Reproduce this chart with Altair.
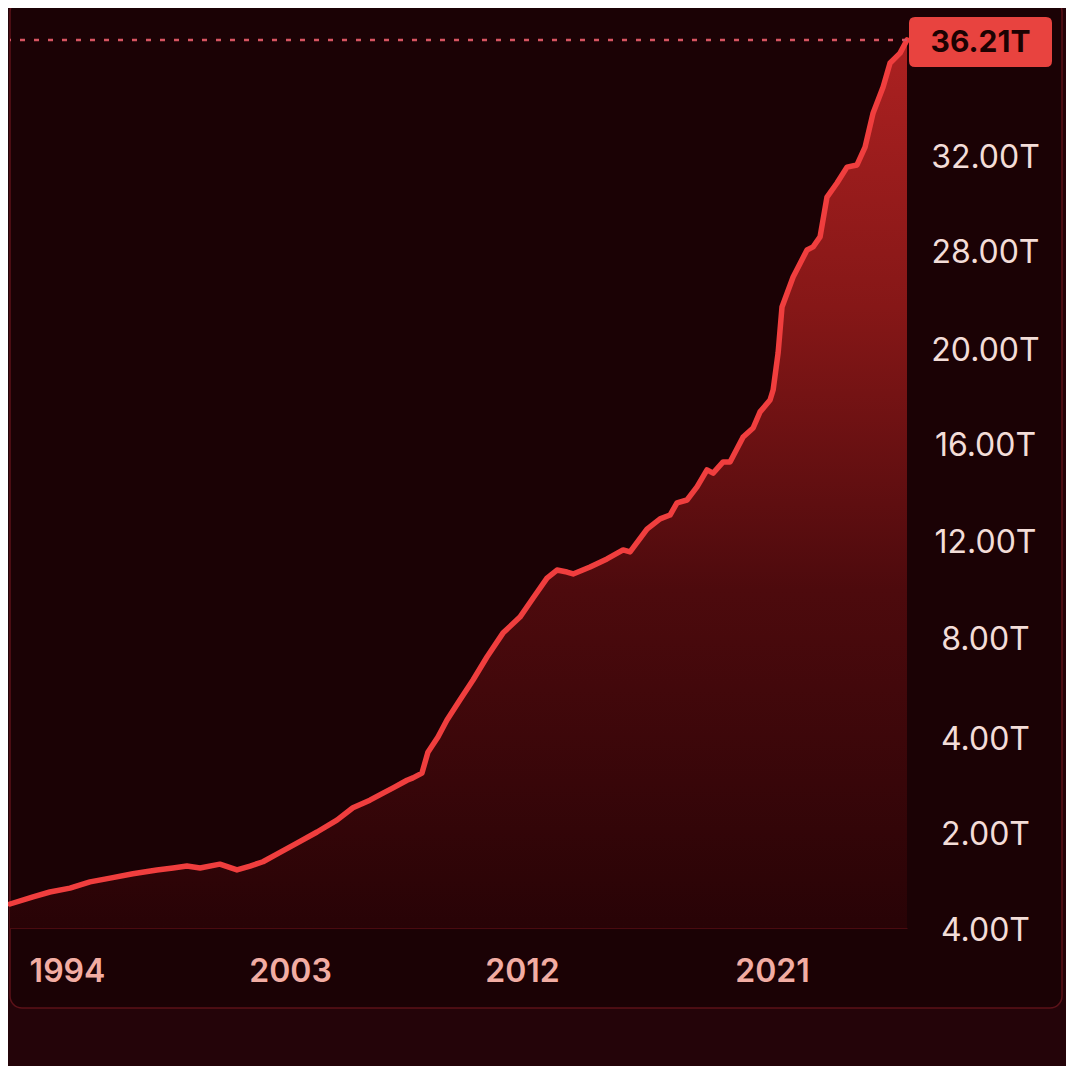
import altair as alt
import pandas as pd

# ---- data ----
years = [1991.70, 1992.63, 1993.31, 1994.12, 1994.93, 1995.74, 1996.66, 1997.63, 1998.28, 1998.84,
         1999.37, 2000.17, 2000.86, 2001.39, 2001.91, 2002.47, 2003.27, 2004.05, 2004.82, 2005.44,
         2006.10, 2006.61, 2007.00, 2007.54, 2007.77, 2008.12, 2008.35, 2008.74, 2009.09, 2009.59,
         2010.10, 2010.64, 2011.26, 2011.92, 2012.40, 2012.90, 2013.26, 2013.62, 2013.84, 2014.45,
         2015.06, 2015.64, 2015.89, 2016.50, 2016.97, 2017.33, 2017.58, 2017.94, 2018.30, 2018.66,
         2018.88, 2019.24, 2019.49, 2019.96, 2020.32, 2020.57, 2020.93, 2021.04, 2021.22, 2021.36,
         2021.76, 2022.26, 2022.48, 2022.73, 2022.98, 2023.34, 2023.70, 2024.06, 2024.35, 2024.64,
         2025.00, 2025.25, 2025.61, 2025.86]
debt_t = [0.50, 0.65, 0.75, 0.83, 0.96, 1.04, 1.13, 1.21, 1.25, 1.29,
          1.25, 1.33, 1.21, 1.29, 1.38, 1.54, 1.77, 2.00, 2.25, 2.51,
          2.67, 2.82, 2.93, 3.09, 3.14, 3.24, 3.68, 4.00, 4.68, 5.48,
          6.28, 7.20, 8.16, 8.82, 9.61, 10.43, 10.76, 10.68, 10.60, 10.89,
          11.22, 11.59, 11.51, 12.45, 12.87, 13.03, 13.53, 13.65, 14.19, 14.89,
          14.76, 15.22, 15.22, 16.25, 16.63, 17.31, 17.81, 18.23, 19.79, 23.35,
          25.80, 28.00, 28.13, 28.55, 30.23, 30.82, 31.49, 31.58, 32.29, 33.54,
          34.49, 35.37, 35.73, 36.21]
assert len(years) == len(debt_t)

# axis tick labels (as printed in the reference)
x_ticks = [1994, 2003, 2012, 2021]
y_ticks = [0, 2, 4, 8, 12, 16, 20, 28, 32]
y_tick_labels = ["4.00T", "2.00T", "4.00T", "8.00T", "12.00T", "16.00T", "20.00T", "28.00T", "32.00T"]

# the reference axes are piecewise (uneven spacing between ticks)
x_domain = [1991.70, 1994, 2003, 2012, 2021, 2025.86]
x_range = [0, 57, 280, 512, 762, 897]
y_domain = [0, 2, 4, 8, 12, 16, 20, 28, 32, 36.21]
y_range = [888, 792, 697, 597, 500, 403, 308, 210, 115, 0]

W, H = 897, 888
FONT = "Inter"

df = pd.DataFrame({"year": years, "debt": debt_t})
last = pd.DataFrame({"year": [years[-1]], "debt": [debt_t[-1]],
                     "label": [f"{debt_t[-1]:.2f}T"]})

label_expr = " : ".join(
    [f"datum.value == {v} ? '{l}'" for v, l in zip(y_ticks, y_tick_labels)] + ["''"]
)

x_enc = alt.X("year:Q",
              scale=alt.Scale(domain=x_domain, range=x_range, nice=False, zero=False),
              axis=alt.Axis(values=x_ticks, format="d", title=None, grid=False,
                            ticks=False, tickSize=0, domain=True, domainColor="#4a0b10",
                            domainWidth=1, labelFont=FONT, labelFontSize=32,
                            labelFontWeight=600, labelColor="#f2ada3",
                            labelPadding=28, zindex=1))
y_enc = alt.Y("debt:Q",
              scale=alt.Scale(domain=y_domain, range=y_range, nice=False, zero=False),
              axis=alt.Axis(orient="right", values=y_ticks, labelExpr=label_expr,
                            title=None, grid=False, ticks=False, tickSize=0, domain=False,
                            labelFont=FONT, labelFontSize=32, labelFontWeight=400,
                            labelColor="#f3ddd8", labelAlign="center",
                            labelPadding=78, labelOffset=2, zindex=1))

card = alt.Chart(pd.DataFrame({"k": [0]})).mark_rect(
    fill="#1b0205", stroke="#5c1219", strokeWidth=1.5, cornerRadius=12
).encode(x=alt.value(0), x2=alt.value(1052), y=alt.value(-40), y2=alt.value(968))

area = alt.Chart(df).mark_area(
    color=alt.Gradient(
        gradient="linear",
        stops=[alt.GradientStop(color="#ac2121", offset=0),
               alt.GradientStop(color="#861717", offset=0.3),
               alt.GradientStop(color="#4d0a0d", offset=0.62),
               alt.GradientStop(color="#280306", offset=1)],
        x1=1, x2=1, y1=0, y2=1),
    interpolate="linear"
).encode(x=x_enc, y=y_enc)

line = alt.Chart(df).mark_line(
    color="#f03e3e", strokeWidth=5.5, strokeJoin="round", strokeCap="round"
).encode(x="year:Q", y="debt:Q")

rule = alt.Chart(last).mark_rule(
    color="#d65562", strokeWidth=2.5, strokeDash=[5, 9]
).encode(y="debt:Q")

box_path = ("M-1.31,-0.5 H1.31 Q1.43,-0.5 1.43,-0.38 V0.38 Q1.43,0.5 1.31,0.5 "
            "H-1.31 Q-1.43,0.5 -1.43,0.38 V-0.38 Q-1.43,-0.5 -1.31,-0.5 Z")
box = alt.Chart(last).mark_point(
    shape=box_path, size=10000, filled=True, fill="#e8433f", opacity=1,
    strokeWidth=0, xOffset=73.5, yOffset=2
).encode(x="year:Q", y="debt:Q")

box_text = alt.Chart(last).mark_text(
    font=FONT, fontSize=30, fontWeight=700, color="#1c0202",
    align="center", baseline="middle", dx=73.5, dy=3
).encode(x="year:Q", y="debt:Q", text="label:N")

chart = alt.layer(card, area, line, rule, box, box_text).properties(
    width=W, height=H,
    padding={"left": 2, "top": 32, "right": 159, "bottom": 138},
    autosize=alt.AutoSizeParams(type="none"),
    background="#240409",
).configure_view(stroke=None, fill=None)

chart.save("out.html", embed_options={"renderer": "svg", "actions": False})
